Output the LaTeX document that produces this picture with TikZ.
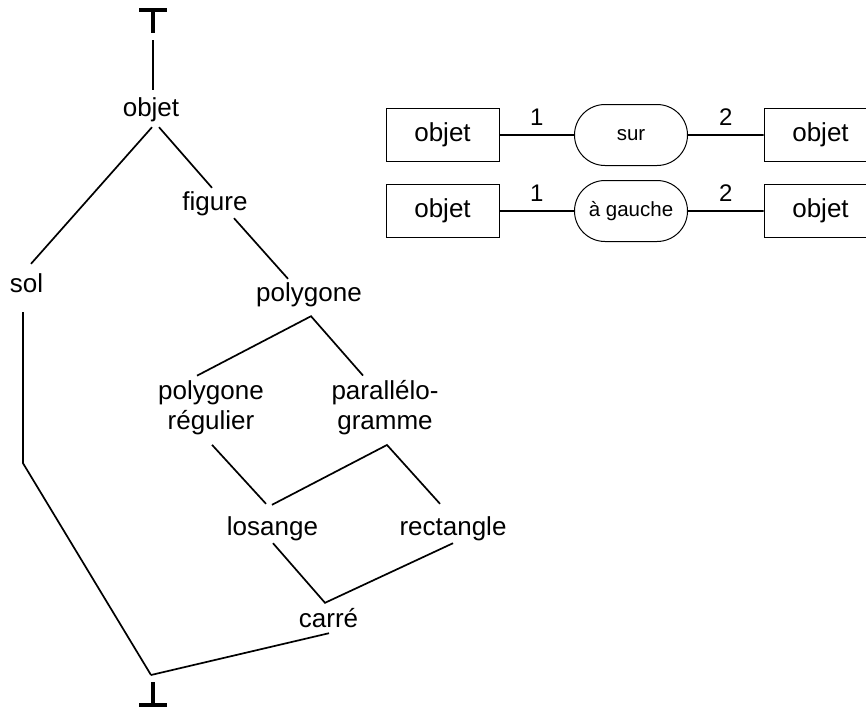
\documentclass[tikz,border=0pt]{standalone}
\usepackage{fontspec}
\setmainfont{Liberation Sans}
\usetikzlibrary{
    calc,
    shapes.misc
}
\tikzset{
    % words of the type lattice
    mot/.style={font=\fontsize{26}{30}\selectfont, inner sep=0pt, text height=19pt, text depth=5.5pt},
    mots/.style={font=\fontsize{26}{30}\selectfont, inner sep=0pt, align=center},
    % lines of the lattice
    lien/.style={line width=1.7pt},
    % top and bottom marks
    borne/.style={line width=3.3pt},
    % conceptual graph
    concept/.style={draw, line width=1pt, minimum width=113pt, minimum height=53pt, font=\fontsize{26}{30}\selectfont},
    relation/.style={draw, rounded rectangle, line width=1pt, minimum width=113pt, minimum height=61pt, inner sep=0pt, font=\fontsize{20.5}{24}\selectfont},
    relarc/.style={line width=1.8pt},
    rang/.style={above=7pt, inner sep=2pt, font=\fontsize{24}{28}\selectfont}
}
\begin{document}
\begin{tikzpicture}[x=1pt, y=-1pt]
            \useasboundingbox (0,0) rectangle (866,710);
            \clip (0,0) rectangle (866,710);
            \coordinate (haut) at (153,40);
            \coordinate (bas) at (151,675);
            \node[mot, anchor=base] (objet) at (151,116) {objet};
            \node[mot, anchor=base] (sol) at (26.5,292) {sol};
            \node[mot, anchor=base] (figure) at (215,210.5) {figure};
            \node[mot, anchor=base] (polygone) at (309,301) {polygone};
            \node[mots] (regulier) at (211,408) {polygone\\régulier};
            \node[mots] (parallelo) at (385,408) {parallélo-\\gramme};
            \node[mot, anchor=base] (losange) at (272.5,535) {losange};
            \node[mot, anchor=base] (rectangle) at (453,535) {rectangle};
            \node[mot, anchor=base] (carre) at (328.5,627) {carré};
            % top and bottom
            \draw[borne] ($(haut)+(-14,-30)$) -- ++(28,0) ($(haut)+(0,-30)$) -- ++(0,23);
            \draw[borne] ($(bas)+(2,7)$) -- ++(0,23) ($(bas)+(-12,30)$) -- ++(28,0);
            \coordinate (j1) at ($(polygone.south)+(2,9.5)$);
            \coordinate (j2) at ($(parallelo.south)+(2,9.5)$);
            \coordinate (j3) at ($(carre.north)+(-3.5,-5)$);
            \begin{scope}[lien]
                \draw (haut) -- ($(objet.north)+(2,-7)$);
                \draw ($(objet.south)+(1,5.5)$) -- ($(sol.north)+(4.5,-9)$);
                \draw ($(objet.south)+(8,5.5)$) -- ($(figure.north)+(-3,-3.5)$);
                \draw ($(figure.south)+(19,2)$) -- ($(polygone.north)+(-21,-3)$);
                \draw ($(regulier.north)+(-14,-5)$) -- (j1) -- ($(parallelo.north)+(-22,-5)$);
                \draw ($(regulier.south)+(1,9.5)$) -- ($(losange.north)+(-6.5,-12)$);
                \draw ($(losange.north)+(-0.5,-11)$) -- (j2) -- ($(rectangle.north)+(-13,-12)$);
                \draw ($(losange.south)+(0.5,2.5)$) -- (j3) -- ($(rectangle.south)+(0,2.5)$);
                \draw ($(carre.south)+(0.5,0.5)$) -- (bas);
                \draw ($(sol.south)+(-3.5,14.5)$) -- ++(0,151) -- (bas);
            \end{scope}
            % relations
            \foreach \nm/\rel/\yy in {a/sur/135, b/à gauche/211} {
                \node[concept] (g\nm) at (442.5,\yy) {objet};
                \node[relation] (r\nm) at (631,\yy) {\rel};
                \node[concept] (d\nm) at (820.5,\yy) {objet};
                \draw[relarc] (g\nm) -- node[rang] {1} (r\nm);
                \draw[relarc] (r\nm) -- node[rang] {2} (d\nm);
            }
\end{tikzpicture}
\end{document}
